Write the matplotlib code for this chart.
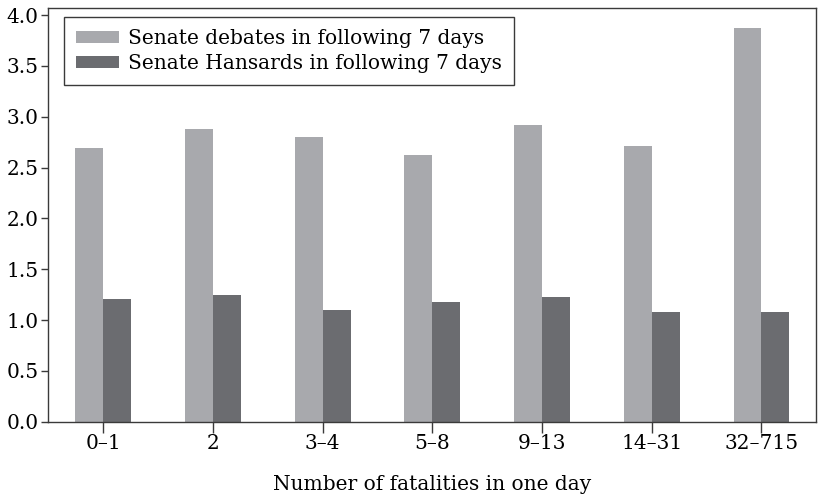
import matplotlib.pyplot as plt
import numpy as np

# data
categories = ['0\u20131', '2', '3\u20134', '5\u20138', '9\u201313', '14\u201331', '32\u2013715']
debates   = [2.69, 2.88, 2.80, 2.62, 2.92, 2.71, 3.87]
hansards  = [1.21, 1.25, 1.10, 1.18, 1.23, 1.08, 1.08]
series_names = ['Senate debates in following 7 days', 'Senate Hansards in following 7 days']

light = '#a8a9ad'
dark = '#6b6c70'
edge = '#3a3a3a'

plt.rcParams['font.family'] = ['DejaVu Serif']
plt.rcParams['font.size'] = 14.5

fig, ax = plt.subplots(figsize=(8.18, 4.99), dpi=100)
fig.subplots_adjust(left=0.059, right=0.998, top=0.984, bottom=0.155)

x = np.arange(len(categories))
w = 0.255
ax.bar(x - w/2, debates, w, color=light, label=series_names[0])
ax.bar(x + w/2, hansards, w, color=dark, label=series_names[1])

ax.set_xlim(-0.5, len(categories) - 0.5)
ax.set_ylim(0, 4.07)
ax.set_yticks(np.arange(0, 4.01, 0.5))
ax.set_yticklabels(['%.1f' % v for v in np.arange(0, 4.01, 0.5)])
ax.set_xticks(x)
ax.set_xticklabels(categories)
ax.tick_params(axis='y', length=5, width=1, color=edge, pad=2)
ax.tick_params(axis='x', length=8, width=1, color=edge, pad=1)
for s in ax.spines.values():
    s.set_color(edge)
    s.set_linewidth(1)

ax.set_xlabel('Number of fatalities in one day', labelpad=16)

leg = ax.legend(loc='upper left', bbox_to_anchor=(0.021, 0.978), fancybox=False,
                framealpha=1, edgecolor=edge, handlelength=2.1, handleheight=0.5,
                borderpad=0.6, labelspacing=0.3, handletextpad=0.45, borderaxespad=0)
leg.get_frame().set_linewidth(1)

fig.savefig('out.png', dpi=100)
